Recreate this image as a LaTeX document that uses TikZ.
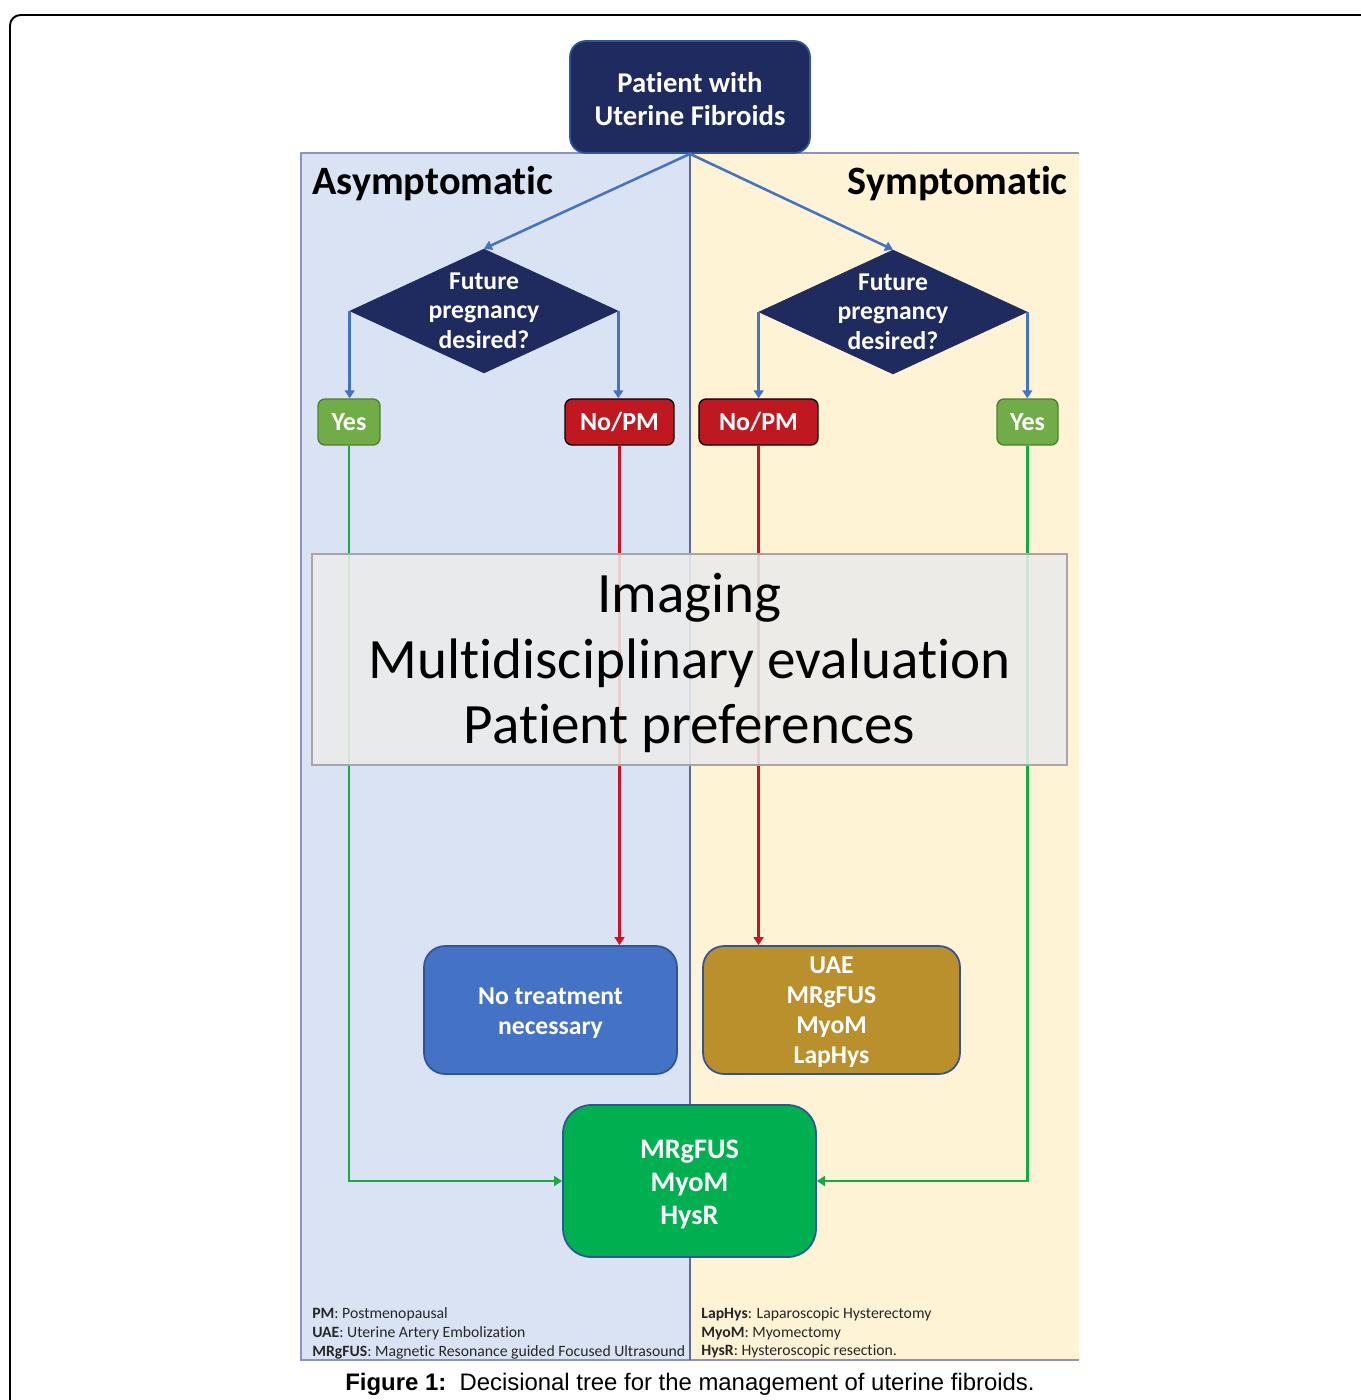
\documentclass[tikz,border=0pt]{standalone}
\usepackage{fontspec}
\setmainfont[RawFeature={-liga;-clig;-calt;-dlig}]{Carlito}
\newfontfamily\capfont{Liberation Sans}
\usetikzlibrary{shapes.geometric,arrows.meta}
\definecolor{navy}{RGB}{31,42,94}
\definecolor{navyborder}{RGB}{47,85,151}
\definecolor{panelblue}{RGB}{218,227,243}
\definecolor{panelyellow}{RGB}{255,243,214}
\definecolor{panelborder}{RGB}{140,147,192}
\definecolor{midline}{RGB}{91,106,168}
\definecolor{yesgreen}{RGB}{112,173,71}
\definecolor{yesborder}{RGB}{80,126,50}
\definecolor{nored}{RGB}{192,24,32}
\definecolor{boxblue}{RGB}{68,114,196}
\definecolor{boxgold}{RGB}{185,144,44}
\definecolor{boxgreen}{RGB}{0,176,80}
\definecolor{linered}{RGB}{200,20,35}
\definecolor{linegreen}{RGB}{20,170,70}
\definecolor{lineblue}{RGB}{68,114,196}
\newcommand{\lowered}[3]{\raisebox{-#1}[\height][\depth]{\parbox{#2}{\centering #3}}}
\begin{document}
\begin{tikzpicture}[x=0.02cm,y=-0.02cm,
  topbox/.style={draw=navyborder,line width=1pt,fill=navy,rounded corners=9pt,text=white,
    minimum width=4.8cm,minimum height=2.24cm,align=center,
    font=\fontsize{16.3}{18.8}\selectfont\bfseries},
  dia/.style={diamond,draw=navy,fill=navy,inner sep=0pt,minimum width=5.36cm,minimum height=2.48cm},
  diatext/.style={text=white,align=center,font=\fontsize{14.6}{16.8}\selectfont\bfseries},
  yesbox/.style={draw=yesborder,line width=0.8pt,fill=yesgreen,rounded corners=4pt,text=white,
    minimum height=0.92cm,inner sep=0pt,font=\fontsize{14.8}{17}\selectfont\bfseries},
  nobox/.style={draw=black,line width=0.8pt,fill=nored,rounded corners=4pt,text=white,
    minimum height=0.92cm,inner sep=0pt,font=\fontsize{14.8}{17}\selectfont\bfseries},
  treat/.style={draw=navyborder,line width=1pt,rounded corners=12pt,text=white,align=center,
    minimum height=2.56cm,inner sep=0pt,font=\fontsize{14.6}{17.1}\selectfont\bfseries},
  larrow/.style={line width=1.45pt,-{Triangle[width=5.5pt,length=4.5pt]}},
  side/.style={font=\fontsize{22.9}{26}\selectfont\bfseries,inner sep=0pt},
  legend/.style={align=left,inner sep=0pt,text=black!85,font=\fontsize{8.95}{10.6}\selectfont}
]
\useasboundingbox (0,0) rectangle (1360,1400);
% outer frame
\draw[line width=1.1pt,rounded corners=6pt] (10,1402) -- (10,15) -- (1362,15);
% panels
\fill[panelblue] (301,153) rectangle (690,1360);
\fill[panelyellow] (690,153) rectangle (1079,1360);
\draw[panelborder,line width=0.8pt] (1079,153) -- (301,153) -- (301,1360) -- (1079,1360);
\draw[midline,line width=1pt] (690,153) -- (690,1360);
% titles
\node[side,anchor=west] (asym) at (312,184) {Asymptomatic};
\node[side,anchor=east] (sym) at (1068,184) {Symptomatic};
% top node
\node[topbox] (top) at (690,97) {\lowered{1.1pt}{4cm}{Patient with\\Uterine Fibroids}};
% diamonds
\node[dia] (d1) at (484,311) {};
\node[diatext] (d1t) at ([yshift=0.3pt]d1) {Future\\pregnancy\\desired?};
\node[dia] (d2) at (893,312) {};
\node[diatext] (d2t) at ([yshift=0.3pt]d2) {Future\\pregnancy\\desired?};
% yes / no boxes
\node[yesbox,minimum width=1.24cm] (yesL) at (349,422) {Yes};
\node[nobox,minimum width=2.18cm] (noL) at (619.5,422) {No/PM};
\node[nobox,minimum width=2.38cm] (noR) at (758.5,422) {No/PM};
\node[yesbox,minimum width=1.22cm] (yesR) at (1027.5,422) {Yes};
% treatment boxes
\node[treat,fill=boxblue,minimum width=5.06cm] (none) at (550.5,1010) {\lowered{1.7pt}{4.5cm}{No treatment\\necessary}};
\node[treat,fill=boxgold,minimum width=5.14cm] (uae) at (831.5,1010) {\lowered{1.2pt}{4.5cm}{UAE\\MRgFUS\\MyoM\\LapHys}};
\node[treat,fill=boxgreen,minimum width=5.06cm,minimum height=3.04cm,rounded corners=16pt,
  font=\fontsize{16.1}{18.8}\selectfont\bfseries] (cons) at (689.5,1181) {\lowered{1.7pt}{4.5cm}{MRgFUS\\MyoM\\HysR}};
% connectors
\draw[lineblue,larrow] (top.south) -- (d1.north);
\draw[lineblue,larrow] (top.south) -- (d2.north);
\draw[lineblue,larrow] (d1.west) -- (d1.west |- yesL.north);
\draw[lineblue,larrow] (d1.east) -- (d1.east |- noL.north);
\draw[lineblue,larrow] (d2.west) -- (d2.west |- noR.north);
\draw[lineblue,larrow] (d2.east) -- (d2.east |- yesR.north);
\draw[linered,larrow] (noL.south) -- (noL.south |- none.north);
\draw[linered,larrow] (noR.south) -- (noR.south |- uae.north);
\draw[linegreen,larrow] (yesL.south) |- (cons.west);
\draw[linegreen,larrow] (yesR.south) |- (cons.east);
% imaging box (semi transparent)
\node[draw=black!35,line width=0.8pt,fill=black!8,fill opacity=0.88,text opacity=1,
  minimum width=15.1cm,minimum height=4.22cm,
  font=\fontsize{32.5}{37.4}\selectfont] (img) at (689.5,659.5)
  {\lowered{2.1pt}{14cm}{Imaging\\Multidisciplinary evaluation\\Patient preferences}};
% legends
\node[legend,anchor=north west] (legL) at (312,1307.5)
  {\textbf{PM}: Postmenopausal\\\textbf{UAE}: Uterine Artery Embolization\\\textbf{MRgFUS}: Magnetic Resonance guided Focused Ultrasound};
\node[legend,anchor=north west] (legR) at (701,1307.5)
  {\textbf{LapHys}: Laparoscopic Hysterectomy\\\textbf{MyoM}: Myomectomy\\\textbf{HysR}: Hysteroscopic resection.};
% caption
\node[font=\capfont\fontsize{13.6}{16}\selectfont,inner sep=0pt] (cap) at (690,1384)
  {\textbf{Figure 1:}\ \ Decisional tree for the management of uterine fibroids.};
\end{tikzpicture}
\end{document}
